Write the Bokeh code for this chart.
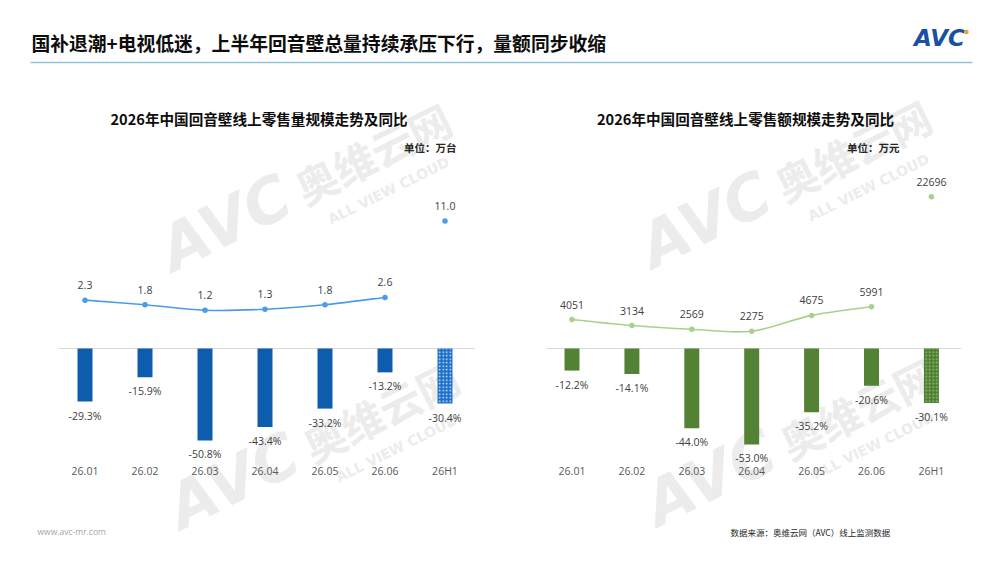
from bokeh.plotting import figure
from bokeh.models import Range1d
from bokeh.core.properties import value
from bokeh.embed import file_html
from bokeh.resources import INLINE

W, H = 1000, 562

# ---------------- data ----------------
categories = ["26.01", "26.02", "26.03", "26.04", "26.05", "26.06", "26H1"]
volume = [2.3, 1.8, 1.2, 1.3, 1.8, 2.6, 11.0]            # 万台
volume_yoy = [-29.3, -15.9, -50.8, -43.4, -33.2, -13.2, -30.4]  # %
revenue = [4051, 3134, 2569, 2275, 4675, 5991, 22696]   # 万元
revenue_yoy = [-12.2, -14.1, -44.0, -53.0, -35.2, -20.6, -30.1]  # %

main_title = "国补退潮+电视低迷，上半年回音壁总量持续承压下行，量额同步收缩"
left_title = "2026年中国回音壁线上零售量规模走势及同比"
right_title = "2026年中国回音壁线上零售额规模走势及同比"
left_unit = "单位：万台"
right_unit = "单位：万元"
source_text = "数据来源：奥维云网（AVC）线上监测数据"
site_text = "www.avc-mr.com"

CJK = value("Noto Sans CJK SC")
NUM = value("Open Sans")

p = figure(width=W, height=H, x_range=Range1d(0, W), y_range=Range1d(H, 0),
           output_backend="svg", toolbar_location=None, min_border=0,
           x_axis_location=None, y_axis_location=None)
p.grid.visible = False
p.outline_line_color = None
p.background_fill_color = "white"
p.border_fill_color = "white"


def xr(first_px, step_px):
    return Range1d(start=-first_px / step_px, end=(W - first_px) / step_px)


def yr(zero_px, ppu):
    return Range1d(start=(zero_px - H) / ppu, end=zero_px / ppu)


p.extra_x_ranges = {"xl": xr(84.5, 60.0), "xr": xr(571.5, 59.9)}
p.extra_y_ranges = {
    "bl": yr(348, 1.81), "ll": yr(320.6, 9.1),
    "br": yr(348, 1.81), "lr": yr(345.7, 0.00659),
}

# ---------------- watermarks ----------------
wm = "#ECECEC"
for dx, dy in [(0, 0), (480, -3), (8, 258), (485, 255)]:
    p.text(x=[225 + dx], y=[222 + dy], text=["AVC"], angle=0.46,
           text_font=value("DejaVu Sans"), text_font_style="bold italic",
           text_font_size="62px", text_color=wm, text_align="center",
           text_baseline="middle")
    p.text(x=[372 + dx], y=[152 + dy], text=["奥维云网"], angle=0.46,
           text_font=CJK, text_font_style="bold", text_font_size="42px",
           text_color=wm, text_align="center", text_baseline="middle")
    p.text(x=[388 + dx], y=[190 + dy], text=["ALL VIEW CLOUD"], angle=0.46,
           text_font=value("DejaVu Sans"), text_font_style="bold",
           text_font_size="14px", text_color=wm, text_align="center",
           text_baseline="middle")

# ---------------- header ----------------
p.text(x=[31], y=[42], text=[main_title], text_font=CJK, text_font_style="bold",
       text_font_size="18.8px", text_color="#0D0D0D", text_align="left",
       text_baseline="middle")
p.segment(x0=[30], x1=[972], y0=[62], y1=[62], line_color="#8FC4DA", line_width=1.5)
p.text(x=[939], y=[37], text=["AVC"], text_font=value("DejaVu Sans"),
       text_font_style="bold italic", text_font_size="23px", text_color="#1A4FA6",
       text_align="center", text_baseline="middle")
p.scatter(x=[966], y=[31.5], size=4.5, fill_color="#F0A030", line_color=None)

# ---------------- footer ----------------
p.text(x=[37], y=[531], text=[site_text], text_font=NUM, text_font_size="8.5px",
       text_color="#A6A6A6", text_align="left", text_baseline="middle")
p.text(x=[730], y=[531], text=[source_text], text_font=CJK, text_font_size="8.5px",
       text_color="#262626", text_align="left", text_baseline="middle")


def smooth_segments(xs, ys):
    n = len(xs)
    out = {k: [] for k in ["x0", "y0", "x1", "y1", "cx0", "cy0", "cx1", "cy1"]}
    for i in range(n - 1):
        a = max(i - 1, 0)
        d = min(i + 2, n - 1)
        out["x0"].append(xs[i]); out["y0"].append(ys[i])
        out["x1"].append(xs[i + 1]); out["y1"].append(ys[i + 1])
        out["cx0"].append(xs[i] + (xs[i + 1] - xs[a]) / 6)
        out["cy0"].append(ys[i] + (ys[i + 1] - ys[a]) / 6)
        out["cx1"].append(xs[i + 1] - (xs[d] - xs[i]) / 6)
        out["cy1"].append(ys[i + 1] - (ys[d] - ys[i]) / 6)
    return out


def chart(xname, bname, lname, title, title_x, unit, unit_x, vals, yoy,
          val_labels, bar_color, h1_color, dot_color, line_color):
    idx = list(range(len(categories)))
    # title / unit
    p.text(x=[title_x], y=[118], text=[title], text_font=CJK, text_font_style="bold",
           text_font_size="14.6px", text_color="#0D0D0D", text_align="center",
           text_baseline="middle")
    p.text(x=[unit_x], y=[147], text=[unit], text_font=CJK, text_font_style="bold",
           text_font_size="10.5px", text_color="#262626", text_align="right",
           text_baseline="middle")
    # zero line
    p.segment(x0=[-0.43], x1=[6.5], y0=[0], y1=[0], x_range_name=xname,
              y_range_name=bname, line_color="#D9D9D9", line_width=1)
    # bars (monthly)
    p.vbar(x=idx[:-1], top=0, bottom=yoy[:-1], width=0.25, x_range_name=xname,
           y_range_name=bname, fill_color=bar_color, line_color=None)
    # H1 bar patterned
    p.vbar(x=idx[-1:], top=0, bottom=yoy[-1:], width=0.25, x_range_name=xname,
           y_range_name=bname, fill_color=h1_color, line_color=None,
           hatch_pattern="dot", hatch_color=dot_color, hatch_scale=3.5,
           hatch_weight=1.2, hatch_alpha=0.85)
    # bar labels
    p.text(x=idx, y=yoy, text=[f"{v:.1f}%" for v in yoy], x_range_name=xname,
           y_range_name=bname, y_offset=14, text_font=NUM, text_font_size="10.5px",
           text_color="#404040", text_align="center", text_baseline="middle")
    # smooth line (monthly points)
    seg = smooth_segments(idx[:-1], vals[:-1])
    p.bezier(x_range_name=xname, y_range_name=lname, line_color=line_color,
             line_width=1.6, **seg)
    p.scatter(x=idx, y=vals, size=5.5, x_range_name=xname, y_range_name=lname,
              fill_color=line_color, line_color=None)
    p.text(x=idx, y=vals, text=val_labels, x_range_name=xname, y_range_name=lname,
           y_offset=-15, text_font=NUM, text_font_size="10.5px", text_color="#404040",
           text_align="center", text_baseline="middle")
    # category labels
    p.text(x=idx, y=[470] * len(idx), text=categories, x_range_name=xname,
           text_font=NUM, text_font_size="10.5px", text_color="#595959",
           text_align="center", text_baseline="middle")


chart("xl", "bl", "ll", left_title, 258.5, left_unit, 456, volume, volume_yoy,
      [f"{v:.1f}" for v in volume], "#0E5CAD", "#1C6FC8", "white", "#4C9BE8")
chart("xr", "br", "lr", right_title, 745, right_unit, 899, revenue, revenue_yoy,
      [f"{v}" for v in revenue], "#548235", "#4F7F31", "#A9D18E", "#A9D18E")

open("out.html", "w").write(file_html(p, INLINE))
